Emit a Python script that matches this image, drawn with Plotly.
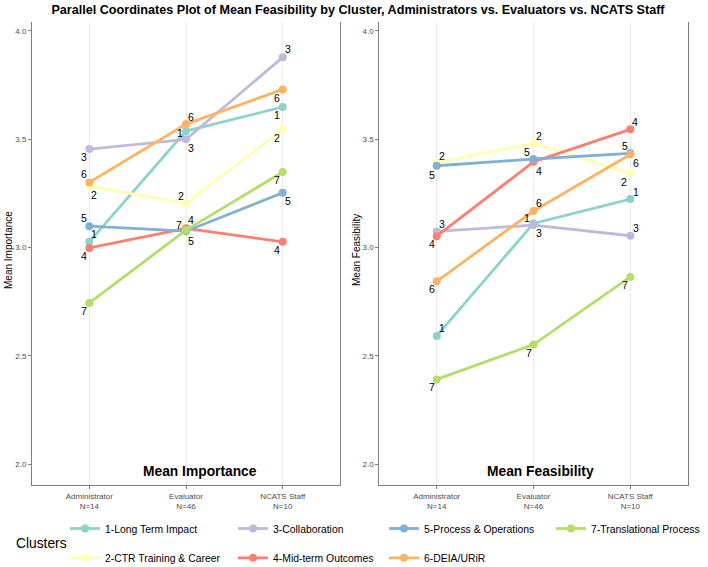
import plotly.graph_objects as go

# ---------------- data ----------------
groups = ["Administrator", "Evaluator", "NCATS Staff"]
group_labels = ["Administrator<br>N=14", "Evaluator<br>N=46", "NCATS Staff<br>N=10"]
clusters = ["1-Long Term Impact", "2-CTR Training & Career", "3-Collaboration",
            "4-Mid-term Outcomes", "5-Process & Operations", "6-DEIA/URiR",
            "7-Translational Process"]
cluster_ids = ["1", "2", "3", "4", "5", "6", "7"]
colors = ["#8DD3C7", "#FFFFB3", "#BEBADA", "#FB8072", "#80B1D3", "#FDB462", "#B3DE69"]

importance_1 = [3.026, 3.537, 3.648]
importance_2 = [3.283, 3.203, 3.545]
importance_3 = [3.454, 3.499, 3.877]
importance_4 = [2.998, 3.088, 3.026]
importance_5 = [3.098, 3.075, 3.252]
importance_6 = [3.300, 3.569, 3.729]
importance_7 = [2.744, 3.080, 3.348]

feasibility_1 = [2.592, 3.111, 3.223]
feasibility_2 = [3.391, 3.480, 3.343]
feasibility_3 = [3.074, 3.103, 3.054]
feasibility_4 = [3.052, 3.395, 3.545]
feasibility_5 = [3.377, 3.408, 3.434]
feasibility_6 = [2.844, 3.168, 3.429]
feasibility_7 = [2.391, 2.552, 2.864]

importance = [importance_1, importance_2, importance_3, importance_4,
              importance_5, importance_6, importance_7]
feasibility = [feasibility_1, feasibility_2, feasibility_3, feasibility_4,
               feasibility_5, feasibility_6, feasibility_7]

y_ticks = [2.0, 2.5, 3.0, 3.5, 4.0]

# label offsets (pixels: dx right, dy down) per cluster, per group
imp_offsets = [
    [(5, -8.3), (-6, 2.3), (-5.3, 8)],
    [(5, 9), (-5.3, -7.7), (-5.3, 8.3)],
    [(-5.3, 7.7), (5, 8.3), (5.3, -8)],
    [(-5.3, 8), (5, -8.3), (-5.3, 8.3)],
    [(-5.3, -8.3), (5, 10), (5.3, 8.3)],
    [(-5.3, -8), (4.7, -7.3), (-5.3, 8.3)],
    [(-5.3, 8.3), (-7, -4.7), (-5.3, 8)],
]
feas_offsets = [
    [(5, -8), (-6.7, -5), (5.7, -7.3)],
    [(5, -6.7), (5, -7.7), (-6, 8.7)],
    [(5.7, -7.7), (5, 8.3), (5.7, -8)],
    [(-5, 8), (5, 9), (4.7, -7.7)],
    [(-5, 9.3), (-6.7, -7.3), (-5, -7.7)],
    [(-5, 8), (5, -7.7), (5.7, 9)],
    [(-5, 8), (-5, 8.3), (-5.3, 7.7)],
]

# legend layout: (left px, row centre px) for each cluster key, ggplot-style 2-row grid
legend_pos = [(65, 528.5), (65, 557.8), (233, 528.5), (233, 557.8),
              (384, 528.5), (384, 557.8), (551, 528.5)]

W, H = 708, 567
FONT = "Liberation Sans, Arial, sans-serif"
fig = go.Figure()

for i, name in enumerate(clusters):
    fig.add_trace(go.Scatter(
        x=groups, y=importance[i], mode="lines+markers", name=name,
        line=dict(color=colors[i], width=2.8),
        marker=dict(color=colors[i], size=8),
        xaxis="x", yaxis="y", legend="legend" if i == 0 else "legend%d" % (i + 1),
        showlegend=True, hoverinfo="skip"))
for i, name in enumerate(clusters):
    fig.add_trace(go.Scatter(
        x=groups, y=feasibility[i], mode="lines+markers", name=name,
        line=dict(color=colors[i], width=2.8),
        marker=dict(color=colors[i], size=8),
        xaxis="x2", yaxis="y2", showlegend=False, hoverinfo="skip"))

annotations = []
for i in range(len(clusters)):
    for j, g in enumerate(groups):
        dx, dy = imp_offsets[i][j]
        annotations.append(dict(x=g, y=importance[i][j], xref="x", yref="y",
                                text=cluster_ids[i], showarrow=False,
                                xanchor="center", yanchor="middle",
                                xshift=dx, yshift=-dy,
                                font=dict(size=10.5, color="black", family=FONT)))
        dx, dy = feas_offsets[i][j]
        annotations.append(dict(x=g, y=feasibility[i][j], xref="x2", yref="y2",
                                text=cluster_ids[i], showarrow=False,
                                xanchor="center", yanchor="middle",
                                xshift=dx, yshift=-dy,
                                font=dict(size=10.5, color="black", family=FONT)))

def paper_text(px, py, text, size, angle=0, xanchor="center"):
    return dict(x=px / W, y=1 - py / H, xref="paper", yref="paper",
                xanchor=xanchor, yanchor="middle", text=text, textangle=angle,
                showarrow=False, font=dict(size=size, color="black", family=FONT))

# panel captions
annotations.append(paper_text(200, 471.5, "<b>Mean Importance</b>", 13.8))
annotations.append(paper_text(540.5, 471.5, "<b>Mean Feasibility</b>", 13.8))
# y-axis titles
annotations.append(paper_text(8, 250, "Mean Importance", 10, angle=-90))
annotations.append(paper_text(356, 250, "Mean Feasibility", 10, angle=-90))
# legend title
annotations.append(paper_text(14, 543, "Clusters", 13.8, xanchor="left"))

xr = [-0.593, 2.593]
yr = [1.904, 4.0415]
ydom = [1 - 485 / H, 1 - 21.7 / H]

xaxis_common = dict(type="category", range=xr, tickvals=groups, ticktext=group_labels,
                    showgrid=True, gridcolor="#EBEBEB", gridwidth=1,
                    showline=True, linecolor="#7F7F7F", linewidth=1,
                    ticks="outside", ticklen=3, tickcolor="#7F7F7F",
                    tickfont=dict(size=8, color="#4D4D4D", family=FONT),
                    zeroline=False, fixedrange=True, automargin=False)
yaxis_common = dict(range=yr, tickvals=y_ticks, ticktext=["%.1f" % v for v in y_ticks],
                    showgrid=False, showline=True, linecolor="#7F7F7F", linewidth=1,
                    mirror=True, ticks="outside", ticklen=3, tickcolor="#7F7F7F",
                    tickfont=dict(size=8, color="#4D4D4D", family=FONT),
                    zeroline=False, domain=ydom, fixedrange=True, automargin=False)

legends = {}
for i, (lx, ly) in enumerate(legend_pos):
    key = "legend" if i == 0 else "legend%d" % (i + 1)
    legends[key] = dict(orientation="h", x=lx / W, xanchor="left",
                        y=1 - ly / H, yanchor="middle",
                        font=dict(size=10.4, color="black", family=FONT),
                        bgcolor="rgba(0,0,0,0)", itemclick=False, itemdoubleclick=False)

fig.update_layout(
    width=W, height=H,
    margin=dict(l=0, r=0, t=0, b=0, autoexpand=False),
    paper_bgcolor="white", plot_bgcolor="white",
    font=dict(family=FONT),
    title=dict(text="<b>Parallel Coordinates Plot of Mean Feasibility by Cluster, Administrators vs. Evaluators vs. NCATS Staff</b>",
               x=358 / W, xanchor="center", y=1 - 10 / H, yanchor="middle",
               font=dict(size=12.6, color="black", family=FONT)),
    xaxis=dict(domain=[32 / W, 340 / W], anchor="y", **xaxis_common),
    yaxis=dict(anchor="x", **yaxis_common),
    xaxis2=dict(domain=[379.3 / W, 687.7 / W], anchor="y2", **xaxis_common),
    yaxis2=dict(anchor="x2", **yaxis_common),
    annotations=annotations,
    showlegend=True,
    **legends,
)

fig.write_html("out.html")
